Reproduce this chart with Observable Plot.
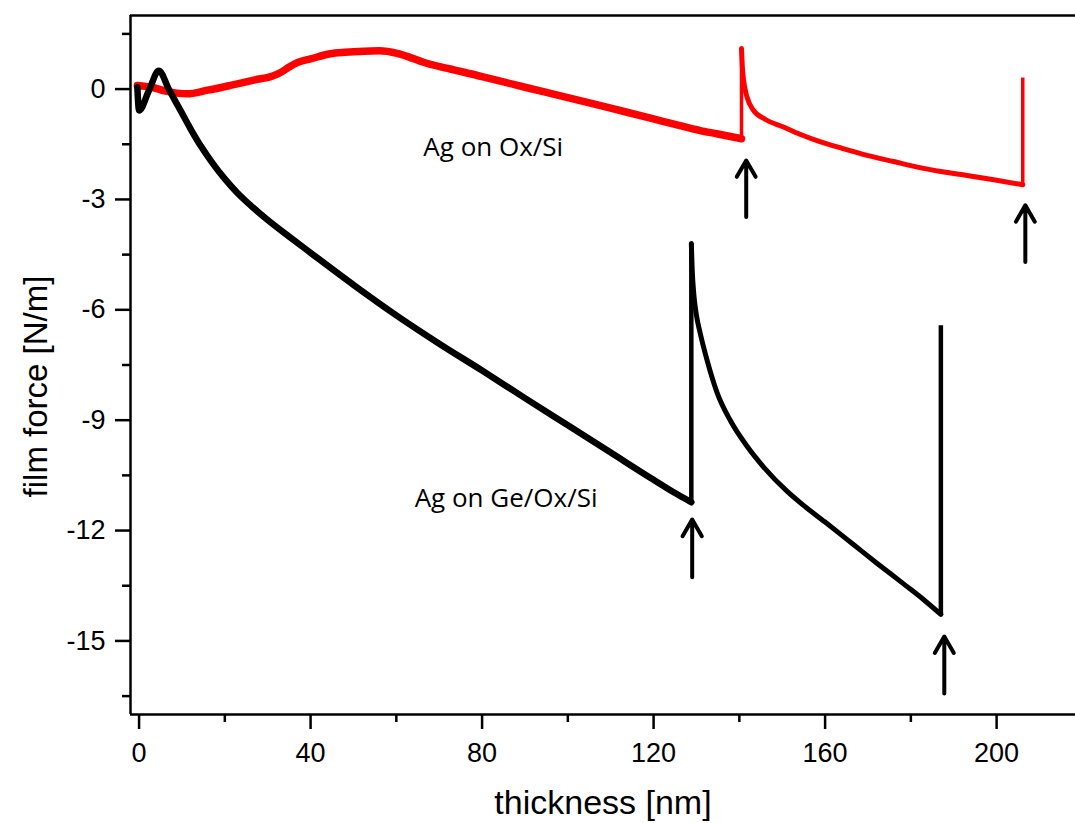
<!DOCTYPE html>
<html>
<head>
<meta charset="utf-8">
<script src="https://cdn.jsdelivr.net/npm/d3@7"></script>
<script src="https://cdn.jsdelivr.net/npm/@observablehq/plot@0.6"></script>
<style>
  html, body { margin: 0; padding: 0; background: #fff; }
  #chart { width: 1075px; height: 823px; overflow: hidden; }
</style>
</head>
<body>
<div id="chart"></div>
<script>
// ---- tick values ----
const xMajor = [0, 40, 80, 120, 160, 200];
const xMinor = [20, 60, 100, 140, 180];
const yMajor = [0, -3, -6, -9, -12, -15];
const yMinor = [1.5, -1.5, -4.5, -7.5, -10.5, -13.5, -16.5];

// ---- Ag on Ge/Ox/Si (black) ----
const geX1 = [-0.4, 0, 2.3, 4.6, 7, 9.65, 12, 14.4, 17, 20, 23, 26, 30, 35, 40, 50, 60, 70, 80, 90, 100, 110, 120, 125, 128.8];
const geY1 = [0.05, -0.58, -0.04, 0.5, -0.02, -0.58, -1.08, -1.55, -1.99, -2.44, -2.83, -3.16, -3.56, -4.01, -4.45, -5.32, -6.15, -6.92, -7.65, -8.4, -9.14, -9.88, -10.62, -10.98, -11.23];
const geX2 = [128.8, 129.0, 129.4, 130.0, 130.9, 132.5, 134.8, 137.9, 141.8, 145.7, 151.1, 154.9, 160, 166.6, 172, 178.3, 183, 187.0];
const geY2 = [-4.2, -4.9, -5.6, -6.15, -6.65, -7.38, -8.25, -9.01, -9.71, -10.28, -10.93, -11.31, -11.77, -12.38, -12.88, -13.45, -13.88, -14.28];
const geJumpX = [128.8, 187.0];
const geJumpLow = [-11.23, -14.3];
const geJumpHigh = [-4.2, -6.43];

// ---- Ag on Ox/Si (red) ----
const oxX1 = [-0.4, 3, 6, 11.2, 16, 21.3, 27, 31, 33, 35, 36.9, 40, 44.6, 48, 52.4, 56, 60.2, 63, 66.3, 72, 80, 90, 100, 110, 119.3, 125, 130.9, 135, 140.5];
const oxY1 = [0.1, 0.05, -0.05, -0.13, -0.03, 0.1, 0.25, 0.35, 0.45, 0.6, 0.72, 0.82, 0.96, 1.0, 1.03, 1.04, 0.97, 0.87, 0.73, 0.56, 0.34, 0.05, -0.23, -0.52, -0.79, -0.96, -1.13, -1.22, -1.35];
const oxX2 = [140.5, 140.7, 141.0, 141.8, 143.3, 146, 150.3, 154, 158.1, 164, 169.8, 176, 181.5, 187, 193.1, 199, 206.1];
const oxY2 = [1.1, 0.6, 0.23, -0.22, -0.58, -0.82, -1.03, -1.22, -1.40, -1.61, -1.80, -1.97, -2.12, -2.24, -2.35, -2.46, -2.6];
const oxJumpX = [140.5, 206.1];
const oxJumpLow = [-1.35, -2.6];
const oxJumpHigh = [1.1, 0.30];

// ---- arrows marking the jumps ----
const arrowX = [141.6, 206.7, 129.0, 187.8];
const arrowTip = [-1.94, -3.16, -11.70, -14.88];
const arrowBase = [-3.48, -4.70, -13.27, -16.43];

// ---- texts ----
const seriesLabels = ["Ag on Ox/Si", "Ag on Ge/Ox/Si"];
const seriesLabelX = [82.6, 85.6];
const seriesLabelY = [-1.83, -11.35];
const xLabel = "thickness [nm]";
const yLabel = "film force [N/m]";

const pts = (xs, ys) => xs.map((x, i) => ({x, y: ys[i]}));
const jumps = (xs, lo, hi) => xs.map((x, i) => ({x, y1: lo[i], y2: hi[i]}));

const ge1 = pts(geX1, geY1), ge2 = pts(geX2, geY2);
const ox1 = pts(oxX1, oxY1), ox2 = pts(oxX2, oxY2);
const geJ = jumps(geJumpX, geJumpLow, geJumpHigh);
const oxJ = jumps(oxJumpX, oxJumpLow, oxJumpHigh);
const arrows = arrowX.map((x, i) => ({x, tip: arrowTip[i], base: arrowBase[i]}));
const labels = seriesLabels.map((t, i) => ({t, x: seriesLabelX[i], y: seriesLabelY[i]}));

const plot = Plot.plot({
  width: 1075,
  height: 823,
  marginLeft: 130,
  marginRight: 0,
  marginTop: 15,
  marginBottom: 109,
  x: {domain: [-2, 218.4]},
  y: {domain: [-17, 2]},
  style: {fontFamily: "'Liberation Sans', Arial, sans-serif", background: "#fff", color: "#000"},
  marks: [
    // frame
    Plot.ruleX([-2], {y1: -17, y2: 2, stroke: "#000", strokeWidth: 2.5}),
    Plot.ruleY([2], {x1: -2, x2: 218.4, stroke: "#000", strokeWidth: 2.5}),
    Plot.ruleY([-17], {x1: -2, x2: 218.4, stroke: "#000", strokeWidth: 2.5}),
    // axes
    Plot.axisX({ticks: xMajor, anchor: "bottom", tickSize: 15, tickPadding: 13, fontSize: 27, strokeWidth: 2.5, label: null, tickFormat: d => String(d)}),
    Plot.axisX({ticks: xMinor, anchor: "bottom", tickSize: 8, text: null, strokeWidth: 2.5, label: null}),
    Plot.axisY({ticks: yMajor, anchor: "left", tickSize: 15, tickPadding: 10, fontSize: 27, strokeWidth: 2.5, label: null, tickFormat: d => String(d)}),
    Plot.axisY({ticks: yMinor, anchor: "left", tickSize: 8, text: null, strokeWidth: 2.5, label: null}),
    // red series
    Plot.line(ox1, {x: "x", y: "y", stroke: "#ff0000", strokeWidth: 7.5, curve: "monotone-x"}),
    Plot.line(ox2, {x: "x", y: "y", stroke: "#ff0000", strokeWidth: 5, curve: "monotone-x"}),
    Plot.ruleX(oxJ, {x: "x", y1: "y1", y2: "y2", stroke: "#ff0000", strokeWidth: 3.5}),
    // black series
    Plot.line(ge1, {x: "x", y: "y", stroke: "#000", strokeWidth: 6.5, curve: "monotone-x"}),
    Plot.line(ge2, {x: "x", y: "y", stroke: "#000", strokeWidth: 5, curve: "monotone-x"}),
    Plot.ruleX(geJ, {x: "x", y1: "y1", y2: "y2", stroke: "#000", strokeWidth: 4.5}),
    // arrows
    Plot.arrow(arrows, {x1: "x", y1: "base", x2: "x", y2: "tip", stroke: "#000", strokeWidth: 4, headLength: 8}),
    // series labels
    Plot.text(labels, {x: "x", y: "y", text: "t", lineAnchor: "bottom", textAnchor: "middle", fontSize: 26, fontFamily: "'Open Sans', sans-serif", fill: "#000", style: "letter-spacing:2.8px"}),
    // axis labels
    Plot.text([xLabel], {frameAnchor: "bottom", dy: 99, lineAnchor: "bottom", textAnchor: "middle", fontSize: 34, fill: "#000"}),
    Plot.text([yLabel], {frameAnchor: "left", dx: -84, dy: 21.5, rotate: -90, lineAnchor: "bottom", textAnchor: "middle", fontSize: 33, fill: "#000"})
  ]
});
document.getElementById("chart").appendChild(plot);
</script>
</body>
</html>
